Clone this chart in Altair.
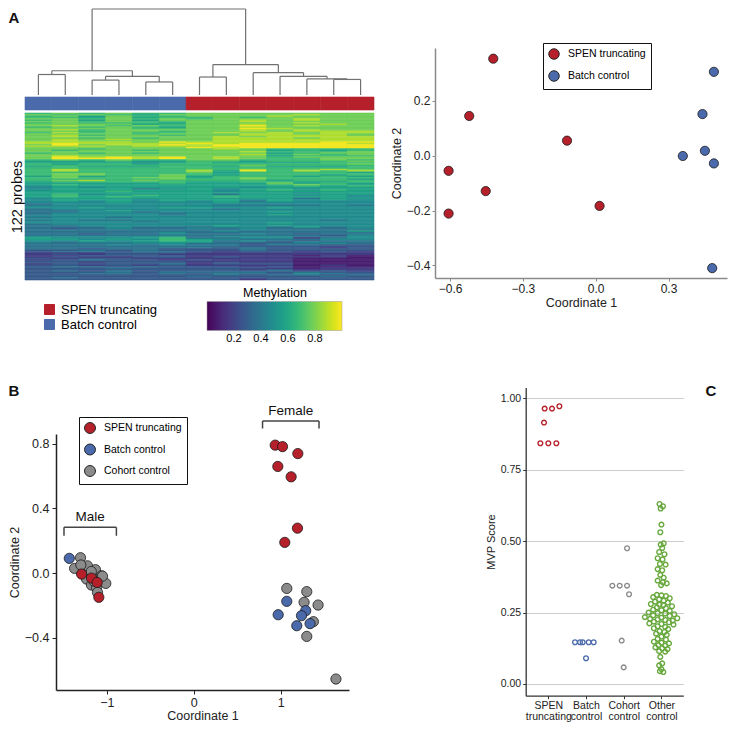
import altair as alt
import pandas as pd

# ---------------- colours / categories ----------------
RED, BLUE, GRAY, GREEN = "#b5202a", "#4b6aab", "#8b8b8b", "#67a83c"
group_order = ["SPEN truncating", "Batch control"]
b_group_order = ["SPEN truncating", "Batch control", "Cohort control"]
c_categories = ["SPEN truncating", "Batch control", "Cohort control", "Other control"]
c_label_lines = [["SPEN", "truncating"], ["Batch", "control"], ["Cohort", "control"], ["Other", "control"]]

# ---------------- panel A heatmap (levels in tenths, 13 samples per probe) ----------------
heat_col_groups = ["Batch control"] * 6 + ["SPEN truncating"] * 7
heat_rows = [
    "6767667777777", "7676577777877", "6757667778777", "6657566767777", "7767676777877",
    "6757577787877", "7767667787777", "6766657777877", "7777567787787", "7876767797877",
    "6767657787777", "7777667798777", "7867777787877", "7767767787888", "6867667878788",
    "7777677788787", "7867767788887", "7877777878888", "7767677888788", "7878777888888",
    "7877777888888", "8888798888899", "8988889899998", "7978898999999", "8887888999999",
    "7777779899999", "7767777876666", "7677677775656", "7777777786667", "6767677775677",
    "7777777786767", "7877777775666", "7989897876777", "7999897876677", "6767667766676",
    "5556556656667", "5555456555566", "6566566666667", "6666666676666", "5655566565556",
    "6666666666666", "6866667686787", "6866668596868", "6666667566665", "6776666566666",
    "6776676566656", "5756675666565", "6766775676666", "6666676676665", "6786766665666",
    "5666665566556", "5555565557565", "5655555556765", "4555555555656", "4545555545555",
    "4555345455455", "4555555456565", "5556555455555", "5555555555455", "5645555355555",
    "5655655555454", "5656555655554", "4555555555355", "4555455545454", "4545454535444",
    "4445444544444", "3444444444444", "3444444333343", "4444444444444", "4454455445444",
    "3444444344444", "3345444444444", "3344344445444", "3444434444444", "3444434445444",
    "4444444444444", "3443444444444", "4444444444444", "3433444444434", "4444344444444",
    "4444444445444", "3444444444444", "3344444545444", "3334333443534", "3234334343334",
    "3333333343333", "3333333433335", "3333343333333", "3323343343233", "3333333333324",
    "4444453444334", "5444563344134", "5545465433344", "4454565343233", "4344455332433",
    "3333443323343", "3334343323322", "3333333322222", "3333333232212", "3323322232222",
    "2232322232222", "2332332122121", "1112221111111", "1212211111111", "1122221111010",
    "1211221211110", "2122111111000", "1232212111000", "2222221111000", "2212221211000",
    "1222231222000", "2212121111010", "2332322212000", "2223222221011", "2222222212111",
    "2323222223121", "2223233332322", "2233232332432", "2222222323323", "2222223222232",
    "2322222222222", "2222222212222",
]
# dendrogram merges: (left node, right node, merge height); leaves are 0..12, merges get ids 13..
dendro_merges = [
    (0, 1, 22.0), (2, 3, 16.0), (4, 5, 14.0), (14, 15, 20.0), (13, 16, 26.0),
    (6, 7, 19.3), (11, 12, 16.7), (10, 19, 17.3), (9, 20, 20.0), (8, 21, 24.0),
    (18, 22, 32.7), (17, 23, 92.3),
]
methylation_range = [0.0, 1.0]

# ---------------- panel A MDS ----------------
a_spen_x = [-0.422, -0.521, -0.118, -0.606, -0.453, -0.606, 0.016]
a_spen_y = [0.354, 0.145, 0.055, -0.055, -0.129, -0.211, -0.183]
a_batch_x = [0.487, 0.440, 0.359, 0.450, 0.487, 0.480]
a_batch_y = [0.306, 0.152, -0.001, 0.018, -0.028, -0.410]

# ---------------- panel B MDS ----------------
b_cohort_x = [-1.304, -1.372, -1.273, -1.224, -1.132, -1.063, -1.013, -1.235, -1.178, -1.120,
              -1.051, -1.108, -1.180, -1.150, -1.300, 1.070, 1.300, 1.269, 1.430, 1.376, 1.300, 1.636]
b_cohort_y = [0.095, 0.029, -0.006, 0.045, 0.021, -0.017, -0.064, -0.037, -0.074, -0.089,
              -0.019, -0.120, 0.010, -0.050, 0.050, -0.095, -0.115, -0.181, -0.198, -0.301, -0.392, -0.656]
b_batch_x = [-1.433, 1.070, 0.971, 1.288, 1.239, 1.185, 1.338]
b_batch_y = [0.091, -0.175, -0.258, -0.233, -0.264, -0.326, -0.313]
b_spen_x = [-1.292, -1.178, -1.112, -1.093, 0.937, 1.021, 1.197, 0.967, 1.120, 1.193, 1.047]
b_spen_y = [-0.006, -0.031, -0.058, -0.150, 0.792, 0.783, 0.740, 0.660, 0.596, 0.278, 0.190]
brackets = [("Male", -1.494, -0.891, 0.283, 0.231), ("Female", 0.791, 1.441, 0.942, 0.895)]

# ---------------- panel C MVP scores (score, horizontal swarm offset) ----------------
c_spen_score = [0.8425, 0.8425, 0.8425, 0.915, 0.964, 0.964, 0.972]
c_spen_off = [-0.211, 0.0, 0.213, -0.114, -0.097, 0.098, 0.293]
c_batch_score = [0.146, 0.146, 0.146, 0.146, 0.146, 0.090]
c_batch_off = [-0.292, -0.159, -0.088, 0.071, 0.203, 0.0]
c_cohort_score = [0.475, 0.344, 0.344, 0.344, 0.314, 0.152, 0.058]
c_cohort_off = [0.088, -0.302, -0.107, 0.088, 0.141, -0.054, -0.001]
c_other_score = [
    0.630, 0.622, 0.614, 0.558, 0.531, 0.492, 0.488, 0.476, 0.462, 0.454, 0.440, 0.436, 0.420,
    0.418, 0.402, 0.398, 0.382, 0.372, 0.362, 0.356, 0.352, 0.346,
    0.312, 0.310, 0.308, 0.304, 0.300, 0.296, 0.292, 0.288, 0.285, 0.280, 0.278, 0.276, 0.272,
    0.268, 0.265, 0.260, 0.258, 0.256, 0.250, 0.248, 0.246, 0.244, 0.240, 0.238, 0.234, 0.232,
    0.230, 0.228, 0.226, 0.224, 0.222, 0.218, 0.216, 0.212, 0.210, 0.208, 0.202, 0.200, 0.195,
    0.192, 0.185, 0.182, 0.176, 0.172, 0.166, 0.158, 0.155, 0.148, 0.145, 0.142, 0.136, 0.134,
    0.128, 0.125, 0.122, 0.115, 0.113,
    0.095, 0.072, 0.065, 0.052, 0.045, 0.042,
]
c_other_off = [
    -0.05, 0.04, -0.02, 0.00, -0.03, 0.06, -0.02, 0.02, -0.06, 0.08, -0.10, 0.03, -0.04,
    0.11, -0.10, 0.02, -0.03, 0.06, -0.10, 0.04, 0.14, -0.01,
    -0.12, 0.00, 0.12, -0.22, 0.22, -0.06, 0.06, -0.17, 0.17, -0.28, -0.05, 0.05, 0.28,
    -0.12, 0.12, -0.22, 0.00, 0.22, -0.34, -0.10, 0.10, 0.34, -0.22, 0.22, -0.44, 0.00,
    0.42, -0.30, -0.10, 0.10, 0.30, -0.20, 0.20, -0.32, 0.00, 0.32, -0.10, 0.10, -0.20,
    0.18, -0.05, 0.08, -0.14, 0.14, 0.00, -0.10, 0.12, -0.20, 0.00, 0.20, -0.08, 0.10,
    -0.16, 0.02, 0.16, -0.06, 0.10,
    -0.03, 0.02, -0.06, 0.00, -0.04, 0.05,
]

# ---------------- build tables ----------------
heat_recs = []
for r, s in enumerate(heat_rows):
    s = (s + s[-1] * 13)[:13]
    for c, ch in enumerate(s):
        heat_recs.append(dict(c0=c, c1=c + 1, r0=r, r1=r + 1, v=0.08 + int(ch) * 0.1))
heat_df = pd.DataFrame(heat_recs)
strip_df = pd.DataFrame(dict(c0=range(13), c1=range(1, 14), group=heat_col_groups, edge=heat_col_groups))

node_x = {i: i + 0.5 for i in range(13)}
node_h = {i: 0.0 for i in range(13)}
segs = []
for k, (a, b, h) in enumerate(dendro_merges):
    xa, xb = node_x[a], node_x[b]
    segs += [dict(x=xa, x2=xb, y=h, y2=h), dict(x=xa, x2=xa, y=node_h[a], y2=h),
             dict(x=xb, x2=xb, y=node_h[b], y2=h)]
    node_x[13 + k] = (xa + xb) / 2
    node_h[13 + k] = h
dendro_df = pd.DataFrame(segs)

a_df = pd.DataFrame(dict(x=a_spen_x + a_batch_x, y=a_spen_y + a_batch_y,
                         group=["SPEN truncating"] * len(a_spen_x) + ["Batch control"] * len(a_batch_x)))
b_df = pd.DataFrame(dict(x=b_cohort_x + b_batch_x + b_spen_x, y=b_cohort_y + b_batch_y + b_spen_y,
                         group=["Cohort control"] * len(b_cohort_x) + ["Batch control"] * len(b_batch_x)
                         + ["SPEN truncating"] * len(b_spen_x)))
br_segs, br_text = [], []
for name, xl, xr, yt, yb in brackets:
    br_segs += [dict(x=xl, x2=xr, y=yt, y2=yt), dict(x=xl, x2=xl, y=yb, y2=yt), dict(x=xr, x2=xr, y=yb, y2=yt)]
    br_text.append(dict(x=(xl + xr) / 2, y=yt, t=name))
br_df, brt_df = pd.DataFrame(br_segs), pd.DataFrame(br_text)

c_recs = []
for i, (sc_, of_) in enumerate([(c_spen_score, c_spen_off), (c_batch_score, c_batch_off),
                                (c_cohort_score, c_cohort_off), (c_other_score, c_other_off)]):
    for s, o in zip(sc_, of_):
        c_recs.append(dict(pos=i + o, score=s, cat=c_categories[i]))
c_df = pd.DataFrame(c_recs)


def S(domain, rng):
    return alt.Scale(domain=domain, range=rng, nice=False, zero=False)


def VIR():
    return alt.Scale(scheme="viridis", domain=methylation_range)


H = 717
HX = S([0, 13], [17, 366])
GRP = alt.Scale(domain=group_order, range=[RED, BLUE])
heat = alt.Chart(heat_df).mark_rect(strokeWidth=0.6).encode(
    x=alt.X("c0:Q", scale=HX, axis=None), x2="c1:Q",
    y=alt.Y("r0:Q", scale=S([0, 122], [105, 272]),
            axis=alt.Axis(orient="left", offset=-17, labels=False, ticks=False, domain=False, grid=False,
                          title="122 probes", titleFontSize=14.5, titleFontWeight="normal", titlePadding=1,
                          titleColor="#111")),
    y2="r1:Q",
    fill=alt.Fill("v:Q", scale=VIR(), legend=None),
    stroke=alt.Stroke("v:Q", scale=VIR(), legend=None),
)
heat_legend = alt.Chart(pd.DataFrame(dict(v=methylation_range))).mark_point(
    size=0, opacity=1, filled=True).encode(
    x=alt.value(0), y=alt.value(0),
    color=alt.Color("v:Q", scale=VIR(),
                    legend=alt.Legend(orient="none", legendX=199, legendY=279, direction="horizontal",
                                      title="Methylation", titleAnchor="middle", titleFontSize=12.5,
                                      titleFontWeight="normal", titlePadding=2, gradientLength=135,
                                      gradientThickness=29, values=[0.2, 0.4, 0.6, 0.8], format=".1f",
                                      labelFontSize=11, gradientStrokeColor="#999", gradientStrokeWidth=0.5,
                                      padding=0)),
)
strip = alt.Chart(strip_df).mark_rect(strokeWidth=0.6).encode(
    x=alt.X("c0:Q", scale=HX, axis=None), x2="c1:Q",
    y=alt.value(89), y2=alt.value(102),
    stroke=alt.Stroke("edge:N", scale=GRP, legend=None),
    color=alt.Color("group:N", scale=GRP,
                    legend=alt.Legend(orient="none", legendX=35, legendY=295, title=None, symbolType="square",
                                      symbolSize=100, symbolStrokeColor="#333", symbolStrokeWidth=1,
                                      symbolOpacity=1, labelFontSize=13, labelOffset=5, rowPadding=0,
                                      padding=0)),
)
dendro = alt.Chart(dendro_df).mark_rule(color="#707070", strokeWidth=1.2).encode(
    x=alt.X("x:Q", scale=HX, axis=None), x2="x2:Q",
    y=alt.Y("y:Q", scale=S([0, 92.3], [87, 1]), axis=None), y2="y2:Q",
)


def letter(t, x, y):
    return alt.Chart(pd.DataFrame(dict(t=[t]))).mark_text(fontSize=15, fontWeight="bold", color="#111",
                                                           align="center", baseline="middle").encode(
        text="t:N", x=alt.value(x), y=alt.value(y))


# panel A scatter
ax_a = dict(grid=False, domainColor="#8a8a8a", domainWidth=1.5, tickColor="#8a8a8a", tickSize=3,
            labelFontSize=12, titleFontSize=12.5, titleFontWeight="normal", labelColor="#222",
            titleColor="#222")
scat_a = alt.Chart(a_df).mark_circle(size=85, opacity=1, stroke="#1a1a1a", strokeWidth=0.8).encode(
    x=alt.X("x:Q", scale=S([-0.662, 0.541], [427, 719]),
            axis=alt.Axis(orient="bottom", offset=270 - H, values=[-0.6, -0.3, 0, 0.3], format=".1f",
                          title="Coordinate 1", labelPadding=2, titlePadding=2, **ax_a)),
    y=alt.Y("y:Q", scale=S([-0.446, 0.393], [270, 40]),
            axis=alt.Axis(orient="left", offset=-427, values=[-0.4, -0.2, 0, 0.2], format=".1f",
                          title="Coordinate 2", labelPadding=2, titlePadding=3, **ax_a)),
    color=alt.Color("group:N", scale=GRP,
                    legend=alt.Legend(orient="none", legendX=535, legendY=35, title=None, strokeColor="#111",
                                      fillColor="white", padding=5, symbolType="circle", symbolSize=110,
                                      symbolStrokeColor="#222", symbolStrokeWidth=1, symbolOpacity=1,
                                      labelFontSize=10.5, labelOffset=8, rowPadding=6)),
)

# panel B scatter
BX, BY = S([-1.586, 1.786], [48, 341]), S([-0.724, 0.861], [682, 426])
ax_b = dict(grid=False, domainColor="#222", domainWidth=1.5, tickColor="#222", tickSize=4,
            labelFontSize=12.5, titleFontSize=12.5, titleFontWeight="normal", labelColor="#222",
            titleColor="#222")
scat_b = alt.Chart(b_df).mark_circle(size=105, opacity=1, stroke="#1a1a1a", strokeWidth=0.8).encode(
    x=alt.X("x:Q", scale=BX,
            axis=alt.Axis(orient="bottom", offset=682 - H, values=[-1, 0, 1], format="d",
                          title="Coordinate 1", labelPadding=2, titlePadding=1, **ax_b)),
    y=alt.Y("y:Q", scale=BY,
            axis=alt.Axis(orient="left", offset=-48, values=[-0.4, 0, 0.4, 0.8], format=".1f",
                          title="Coordinate 2", labelPadding=3, titlePadding=3, **ax_b)),
    color=alt.Color("group:N", scale=alt.Scale(domain=b_group_order, range=[RED, BLUE, GRAY]),
                    legend=alt.Legend(orient="none", legendX=71, legendY=409, title=None, strokeColor="#111",
                                      fillColor="white", padding=5, symbolType="circle", symbolSize=120,
                                      symbolStrokeColor="#222", symbolStrokeWidth=1, symbolOpacity=1,
                                      labelFontSize=10.5, labelOffset=8, rowPadding=5.5)),
)
br_rules = alt.Chart(br_df).mark_rule(color="#444", strokeWidth=1.5).encode(
    x=alt.X("x:Q", scale=BX, axis=None), x2="x2:Q",
    y=alt.Y("y:Q", scale=BY, axis=None), y2="y2:Q")
br_texts = alt.Chart(brt_df).mark_text(fontSize=13.5, baseline="bottom", dy=-3, color="#111").encode(
    x=alt.X("x:Q", scale=BX, axis=None), y=alt.Y("y:Q", scale=BY, axis=None), text="t:N")

# panel C
lab_js = "[" + ",".join("['" + a + "','" + b + "']" for a, b in c_label_lines) + "]"
mvp = alt.Chart(c_df).mark_point(filled=False, size=22, strokeWidth=1.4, opacity=1).encode(
    x=alt.X("pos:Q", scale=S([-0.6, 3.58], [517.7, 675.3]),
            axis=alt.Axis(orient="bottom", offset=687.7 - H, values=[0, 1, 2, 3], title=None, grid=False,
                          labelExpr=lab_js + "[round(datum.value)]", labelFontSize=10.5, labelColor="#222",
                          labelOverlap=False, labelBound=False, labelFlush=False,
                          domainColor="#333", domainWidth=1.3, tickColor="#333", tickSize=3,
                          labelPadding=2, labelLineHeight=11)),
    y=alt.Y("score:Q", scale=S([-0.041, 1.038], [687.7, 379.4]),
            axis=alt.Axis(orient="left", offset=-517.7, values=[0, 0.25, 0.5, 0.75, 1.0], format=".2f",
                          title="MVP Score", titleFontSize=11, titleFontWeight="normal", titlePadding=4,
                          labelFontSize=10.5, labelColor="#222", titleColor="#222", grid=True,
                          gridColor="#cccccc", gridWidth=1, domainColor="#333", domainWidth=1.3,
                          tickColor="#333", tickSize=3)),
    color=alt.Color("cat:N", scale=alt.Scale(domain=c_categories, range=[RED, BLUE, GRAY, GREEN]),
                    legend=None),
)

chart = alt.layer(
    dendro, strip, heat, heat_legend, scat_a, br_rules, br_texts, scat_b, mvp,
    letter("A", 6, 10), letter("B", 6, 383), letter("C", 703, 383),
).resolve_scale(x="independent", y="independent", color="independent", stroke="independent",
                fill="independent").resolve_axis(
    x="independent", y="independent").properties(
    width=720, height=H, padding=0, autosize=alt.AutoSizeParams(type="none")
).configure(font="Liberation Sans").configure_view(strokeWidth=0)

chart.save("out.html", embed_options={"renderer": "svg", "actions": False})
